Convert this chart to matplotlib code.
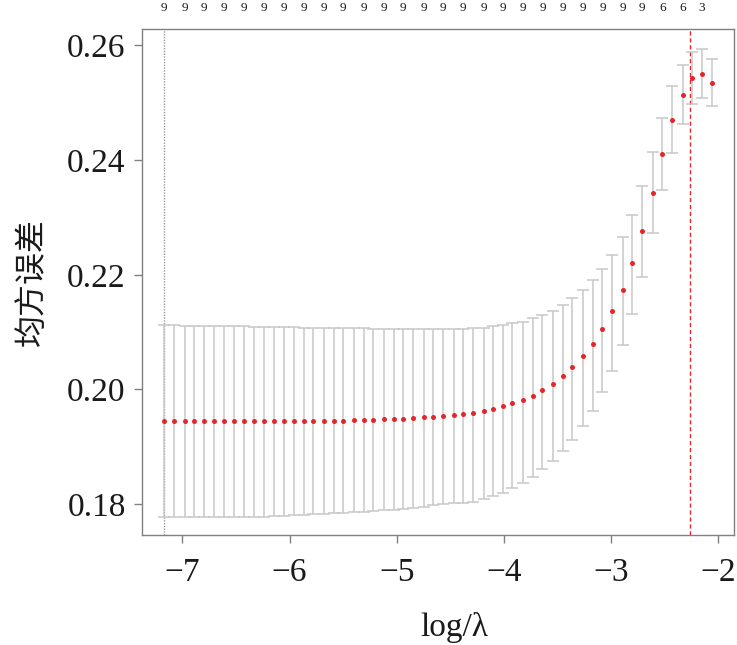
import numpy as np
import matplotlib
matplotlib.use("Agg")
import matplotlib.pyplot as plt

# log(lambda) grid of the fitted path
loglam = [-7.17, -7.08, -6.98, -6.89, -6.80, -6.71, -6.61, -6.52, -6.43, -6.33,
          -6.24, -6.15, -6.05, -5.96, -5.87, -5.78, -5.68, -5.59, -5.50, -5.40,
          -5.31, -5.22, -5.12, -5.03, -4.94, -4.85, -4.75, -4.66, -4.57, -4.47,
          -4.38, -4.29, -4.19, -4.10, -4.01, -3.92, -3.82, -3.73, -3.64, -3.54,
          -3.45, -3.36, -3.26, -3.17, -3.08, -2.99, -2.89, -2.80, -2.71, -2.61,
          -2.52, -2.43, -2.33, -2.24, -2.15, -2.06]

# mean cross-validated error
cvm = [0.1945, 0.1945, 0.1945, 0.1945, 0.1945, 0.1945, 0.1945, 0.1945, 0.1945, 0.1945,
       0.1945, 0.1945, 0.1945, 0.1945, 0.1945, 0.1945, 0.1945, 0.1945, 0.19455, 0.19458,
       0.19463, 0.1947, 0.19476, 0.19482, 0.19492, 0.19503, 0.19515, 0.19527, 0.1954, 0.19546,
       0.1957, 0.1959, 0.1962, 0.1966, 0.1971, 0.1976, 0.1982, 0.1989, 0.1999, 0.2010,
       0.2023, 0.2039, 0.2058, 0.2079, 0.2105, 0.2136, 0.2174, 0.2221, 0.2276, 0.2343,
       0.2410, 0.2470, 0.2514, 0.2543, 0.2551, 0.2535]

cvup = [0.2112, 0.2112, 0.2111, 0.2111, 0.2111, 0.2110, 0.2110, 0.2110, 0.2110, 0.2109,
        0.2109, 0.2109, 0.2109, 0.2109, 0.2108, 0.2108, 0.2108, 0.2107, 0.2107, 0.2107,
        0.2107, 0.2106, 0.2106, 0.2106, 0.2106, 0.2106, 0.2106, 0.2106, 0.2106, 0.2106,
        0.2106, 0.2107, 0.2108, 0.2110, 0.2112, 0.2115, 0.2118, 0.2124, 0.2129, 0.2137,
        0.2147, 0.2159, 0.2174, 0.2190, 0.2210, 0.2235, 0.2266, 0.2305, 0.2354, 0.2414,
        0.2474, 0.2530, 0.2566, 0.2589, 0.2594, 0.2576]

cvlo = [0.1778, 0.1778, 0.1778, 0.1778, 0.1778, 0.1778, 0.1778, 0.1778, 0.1778, 0.1778,
        0.1778, 0.1780, 0.1780, 0.1781, 0.1781, 0.1782, 0.1783, 0.1784, 0.1785, 0.1786,
        0.1787, 0.1788, 0.1789, 0.1790, 0.1791, 0.1793, 0.1795, 0.1798, 0.1800, 0.1802,
        0.1801, 0.1804, 0.1808, 0.1814, 0.1820, 0.1828, 0.1837, 0.1848, 0.1861, 0.1875,
        0.1892, 0.1912, 0.1936, 0.1963, 0.1995, 0.2032, 0.2078, 0.2132, 0.2196, 0.2272,
        0.2348, 0.2412, 0.2463, 0.2498, 0.2508, 0.2494]

# number of non-zero coefficients, shown on top every second lambda
nzero_top = ['9'] * 25 + ['6', '6', '3']

lam_min = -7.17
lam_1se = -2.265

serif = ['Liberation Serif', 'DejaVu Serif']
cjk = ['Noto Sans CJK SC', 'DejaVu Sans']

fig = plt.figure(figsize=(7.37, 6.45), dpi=100)
ax = fig.add_axes([0.1932, 0.1705, 0.8027, 0.7848])

x = np.array(loglam)
m = np.array(cvm)
up = np.array(cvup)
lo = np.array(cvlo)

ax.errorbar(x, m, yerr=[m - lo, up - m], fmt='none', ecolor='#c8c8c8',
            elinewidth=1.1, capsize=4, capthick=1.1, zorder=2)
ax.plot(x, m, 'o', color='#e3262a', markersize=3.6, markeredgewidth=0, zorder=3)

ax.axvline(lam_min, color='#9a9a9a', linestyle=(0, (1, 1)), linewidth=1.0, zorder=1)
ax.axvline(lam_1se, color='#e3262a', linestyle=(0, (3, 2)), linewidth=1.0, zorder=1)

ax.set_xlim(-7.374, -1.852)
ax.set_ylim(0.1746, 0.2629)
ax.set_xticks([-7, -6, -5, -4, -3, -2])
ax.set_xticklabels(['\u22127', '\u22126', '\u22125', '\u22124', '\u22123', '\u22122'])
ax.set_yticks([0.18, 0.20, 0.22, 0.24, 0.26])
ax.set_yticklabels(['0.18', '0.20', '0.22', '0.24', '0.26'])

for s in ax.spines.values():
    s.set_color('#808080')
    s.set_linewidth(1.0)
ax.tick_params(axis='both', colors='#808080', length=6, width=1.0,
               labelcolor='#1a1a1a', labelsize=24)
ax.tick_params(axis='x', pad=10)
ax.tick_params(axis='y', pad=6)
for lab in ax.get_xticklabels() + ax.get_yticklabels():
    lab.set_family(serif)

# top axis: model size
top = ax.secondary_xaxis('top')
top.set_xticks(x[::2])
top.set_xticklabels(nzero_top)
top.tick_params(length=0, pad=11, labelsize=9.5, labelcolor='#1a1a1a')
top.spines['top'].set_visible(False)
for lab in top.get_xticklabels():
    lab.set_family(serif)

ax.set_xlabel('log/\u03bb', fontsize=24, family=serif, color='#1a1a1a')
ax.xaxis.set_label_coords(0.5276, -0.153)
ax.xaxis.label.set_va('top')
ax.set_ylabel('均方误差', fontsize=23, family=cjk, labelpad=14, color='#1a1a1a')

fig.savefig('out.png', dpi=100)
